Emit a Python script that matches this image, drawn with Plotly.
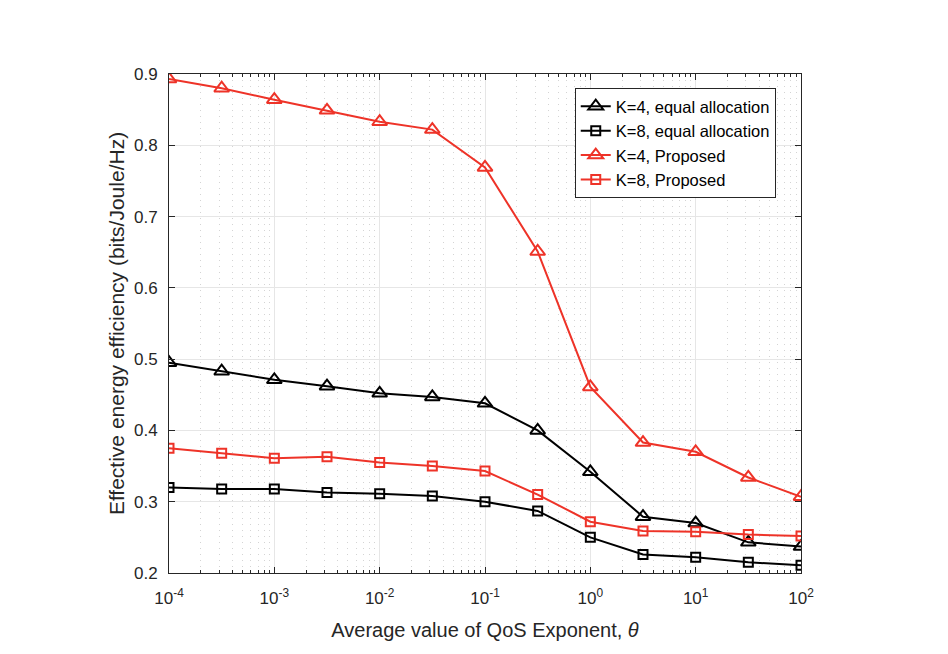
import plotly.graph_objects as go

theta = [1e-4, 10**-3.5, 1e-3, 10**-2.5, 1e-2, 10**-1.5, 1e-1, 10**-0.5, 1e0, 10**0.5, 1e1, 10**1.5, 1e2]

k4_equal = [0.495, 0.483, 0.471, 0.462, 0.452, 0.447, 0.438, 0.400, 0.342, 0.279, 0.270, 0.243, 0.237]
k8_equal = [0.320, 0.318, 0.318, 0.313, 0.311, 0.308, 0.300, 0.287, 0.250, 0.226, 0.222, 0.215, 0.211]
k4_prop = [0.893, 0.880, 0.864, 0.849, 0.833, 0.822, 0.769, 0.651, 0.461, 0.383, 0.370, 0.334, 0.307]
k8_prop = [0.375, 0.368, 0.361, 0.363, 0.355, 0.350, 0.343, 0.310, 0.272, 0.259, 0.258, 0.254, 0.252]

x_tickvals = [1e-4, 1e-3, 1e-2, 1e-1, 1e0, 1e1, 1e2]
x_ticktext = ["10<sup>-4</sup>", "10<sup>-3</sup>", "10<sup>-2</sup>", "10<sup>-1</sup>",
              "10<sup>0</sup>", "10<sup>1</sup>", "10<sup>2</sup>"]
y_tickvals = [0.2, 0.3, 0.4, 0.5, 0.6, 0.7, 0.8, 0.9]

minor_vals = [m * 10.0**e for e in range(-4, 2) for m in range(2, 10)]

BLACK = "#000000"
RED = "#ee3328"

series = [
    ("K=4, equal allocation", k4_equal, BLACK, "triangle-up-open", 13),
    ("K=8, equal allocation", k8_equal, BLACK, "square-open", 9),
    ("K=4, Proposed", k4_prop, RED, "triangle-up-open", 13),
    ("K=8, Proposed", k8_prop, RED, "square-open", 9),
]

fig = go.Figure()
for name, vals, col, sym, sz in series:
    fig.add_trace(go.Scatter(
        x=theta, y=vals, name=name, mode="lines+markers",
        line=dict(color=col, width=2),
        marker=dict(symbol=sym, size=sz, color=col, line=dict(color=col, width=2)),
    ))

font_family = "Liberation Sans, Arial, Helvetica, sans-serif"
TXT = "#262626"

fig.update_layout(
    width=940, height=646,
    margin=dict(l=161, r=147, t=66, b=81),
    paper_bgcolor="white", plot_bgcolor="white",
    font=dict(family=font_family, size=17, color=TXT),
    showlegend=True,
    legend=dict(
        x=0.642, y=0.972, xanchor="left", yanchor="top",
        bgcolor="white", bordercolor=TXT, borderwidth=1,
        font=dict(size=16.5, color="#000000"),
        tracegroupgap=0,
    ),
)

fig.update_xaxes(
    type="log", range=[-4, 2],
    tickvals=x_tickvals, ticktext=x_ticktext,
    ticks="inside", ticklen=6, tickcolor=TXT,
    ticklabelstandoff=10,
    showline=True, linecolor=TXT, linewidth=1, mirror="ticks",
    showgrid=True, gridcolor="#e6e6e6", gridwidth=1,
    zeroline=False,
    tickfont=dict(size=17, color=TXT),
    title=dict(text="Average value of QoS Exponent, <i>θ</i>", font=dict(size=20, color=TXT), standoff=15),
    minor=dict(tickvals=minor_vals, ticks="inside", ticklen=3, tickcolor=TXT,
               showgrid=True, gridcolor="#d4d4d4", griddash="1px,5px", gridwidth=1),
)

fig.update_yaxes(
    range=[0.2, 0.9],
    tickvals=y_tickvals, ticktext=[f"{v:.1f}" for v in y_tickvals],
    ticks="inside", ticklen=6, tickcolor=TXT,
    ticklabelstandoff=7,
    showline=True, linecolor=TXT, linewidth=1, mirror="ticks",
    showgrid=True, gridcolor="#e6e6e6", gridwidth=1,
    zeroline=False,
    tickfont=dict(size=17, color=TXT),
    title=dict(text="Effective energy efficiency (bits/Joule/Hz)", font=dict(size=21, color=TXT), standoff=3),
)

fig.write_html("out.html")
